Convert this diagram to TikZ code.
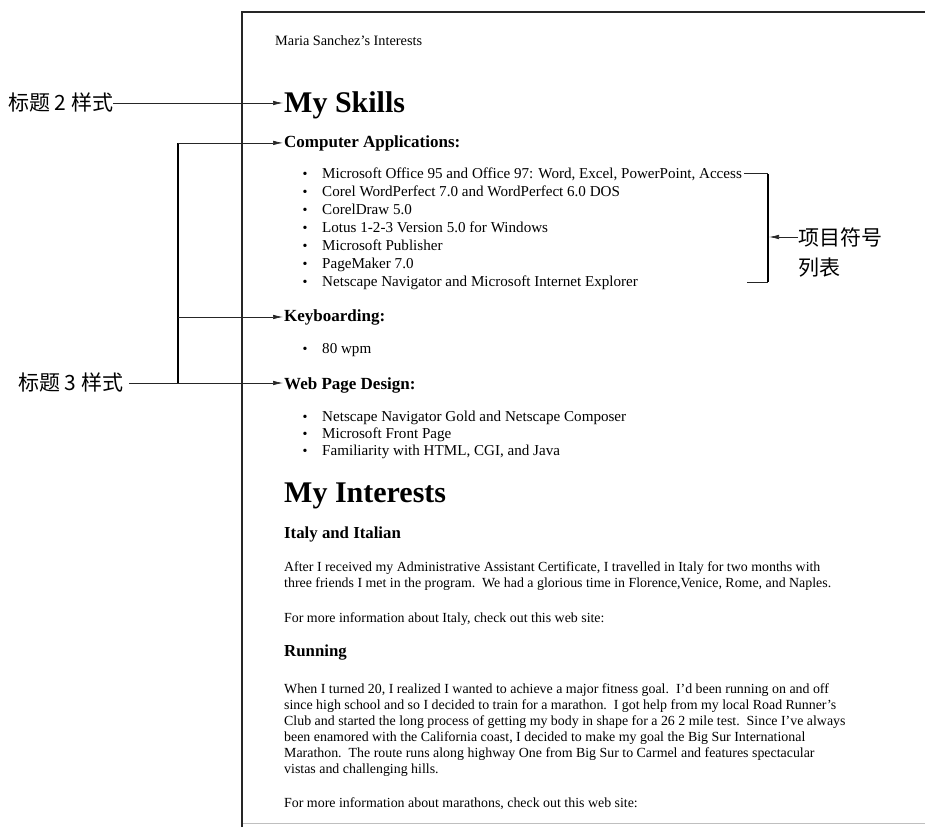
\documentclass[tikz,border=0pt]{standalone}
\usepackage{fontspec}
\setmainfont{Liberation Serif}
\newfontfamily\cjk{Noto Sans CJK SC}
\usetikzlibrary{arrows.meta}
\tikzset{
  txt/.style={inner sep=0pt, anchor=base west},
  body/.style={txt, font=\fontsize{13.9}{16}\selectfont},
  item/.style={txt, font=\fontsize{15.1}{17}\selectfont},
  bul/.style={inner sep=0pt, anchor=base, font=\fontsize{14}{16}\selectfont},
  hthree/.style={txt, font=\fontsize{17}{20}\selectfont\bfseries},
  hfour/.style={txt, font=\fontsize{16.8}{20}\selectfont\bfseries},
  htwo/.style={txt, font=\fontsize{30}{34}\selectfont\bfseries},
  cjklab/.style={inner sep=0pt, font=\fontsize{21}{24}\cjk},
  conn/.style={draw=black!85, line width=0.7pt},
  arr/.style={conn, -{Latex[length=10pt,width=4.5pt]}},
  brk/.style={draw=black, line width=1.6pt},
  frame/.style={draw=black!85, line width=1.5pt}
}
\begin{document}
\begin{tikzpicture}[x=1pt,y=-1pt]
\useasboundingbox (0,0) rectangle (925,827);
% page frame
\draw[frame] (242,827) -- (242,12) -- (925,12);
\draw[draw=black!25, line width=1pt] (243,823) -- (925,823);

\node[txt, font=\fontsize{14.3}{16}\selectfont] (title) at (275,45) {Maria Sanchez's Interests};

\node[htwo] (h2) at (284,112) {My Skills};
\node[hthree] (h3a) at (284,147) {Computer Applications:};
\foreach \n/\yy/\t in {
 i1/178/{Microsoft Office 95 and Office 97: Word, Excel, PowerPoint, Access},
 i2/196/{Corel WordPerfect 7.0 and WordPerfect 6.0 DOS},
 i3/214/{CorelDraw 5.0},
 i4/232/{Lotus 1-2-3 Version 5.0 for Windows},
 i5/250/{Microsoft Publisher},
 i6/268/{PageMaker 7.0},
 i7/286/{Netscape Navigator and Microsoft Internet Explorer}}{
  \node[bul] (b\n) at (305,\yy) {\textbullet};
  \node[item] (\n) at (322,\yy) {\t};
}
\node[hthree] (h3b) at (284,321) {Keyboarding:};
\node[bul] (bk1) at (305,353) {\textbullet};
\node[item] (k1) at (322,353) {80 wpm};
\node[hthree] (h3c) at (284,389) {Web Page Design:};
\foreach \n/\yy/\t in {
 w1/421/{Netscape Navigator Gold and Netscape Composer},
 w2/438/{Microsoft Front Page},
 w3/455/{Familiarity with HTML, CGI, and Java}}{
  \node[bul] (b\n) at (305,\yy) {\textbullet};
  \node[item] (\n) at (322,\yy) {\t};
}

\node[htwo] (h2b) at (284,502) {My Interests};
\node[hfour] (h4a) at (284,538) {Italy and Italian};
\node[body] (p1) at (284,571) {After I received my Administrative Assistant Certificate, I travelled in Italy for two months with};
\node[body] (p2) at (284,587) {three friends I met in the program.\ \ We had a glorious time in Florence,Venice, Rome, and Naples.};
\node[body] (p3) at (284,622) {For more information about Italy, check out this web site:};
\node[hfour] (h4b) at (284,656) {Running};
\node[body] (r1) at (284,693) {When I turned 20, I realized I wanted to achieve a major fitness goal.\ \ I'd been running on and off};
\node[body] (r2) at (284,709) {since high school and so I decided to train for a marathon.\ \ I got help from my local Road Runner's};
\node[body] (r3) at (284,725) {Club and started the long process of getting my body in shape for a 26 2 mile test.\ \ Since I've always};
\node[body] (r4) at (284,741) {been enamored with the California coast, I decided to make my goal the Big Sur International};
\node[body] (r5) at (284,757) {Marathon.\ \ The route runs along highway One from Big Sur to Carmel and features spectacular};
\node[body] (r6) at (284,773) {vistas and challenging hills.};
\node[body] (p4) at (284,807) {For more information about marathons, check out this web site:};

% left labels
\node[cjklab, anchor=west] (l2) at (8,103) {标题 2 样式};
\node[cjklab, anchor=west] (l3) at (18,383) {标题 3 样式};
\coordinate (bx) at (178,0);
\draw[arr] (l2.east) -- ([xshift=-1pt]l2.east -| h2.west);
\draw[brk] (bx |- h3a.west) -- (bx |- l3.east);
\draw[arr] (bx |- h3a.west) -- ([xshift=-1pt]h3a.west);
\draw[arr] (bx |- h3b.west) -- ([xshift=-1pt]h3b.west);
\draw[arr] ([xshift=6pt]l3.east) -- ([xshift=-1pt]l3.east -| h3c.west);

% right label
\node[cjklab, anchor=west] (l4) at (798,237) {项目符号};
\node[cjklab, anchor=west] (l5) at (798,268) {列表};
\coordinate (rx) at (768,0);
\coordinate (rs) at (747,0);
\draw[conn] ([xshift=2pt]i1.east) -- (rx |- i1.east);
\draw[brk] (rx |- i1.east) -- (rx |- i7.east);
\draw[conn] (rs |- i7.east) -- (rx |- i7.east);
\draw[arr] (l4.west) -- ([xshift=1pt]l4.west -| rx);
\end{tikzpicture}
\end{document}
